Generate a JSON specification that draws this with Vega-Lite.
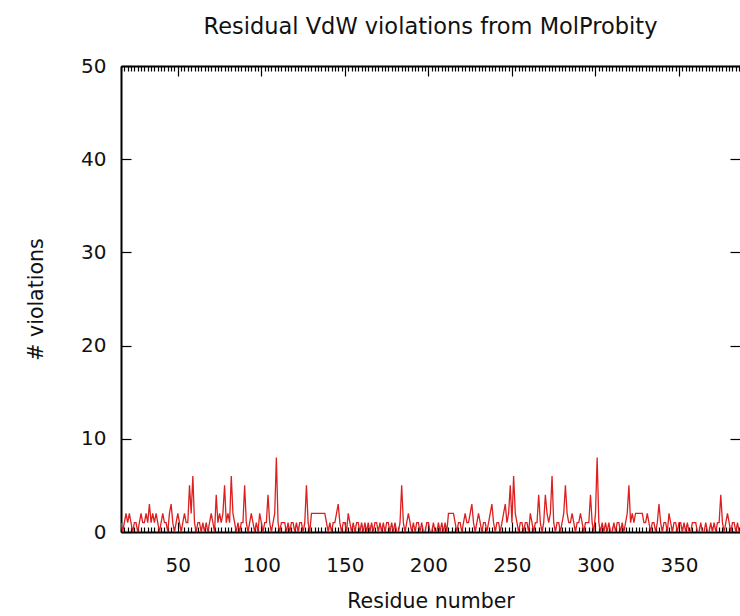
{
"$schema": "https://vega.github.io/schema/vega-lite/v6.json",
"width": 619, "height": 466,
"autosize": {"type": "none"},
"padding": {"left": 121, "top": 66, "right": 0, "bottom": 84},
"background": "white",
"title": {"text": "Residual VdW violations from MolProbity", "font": "DejaVu Sans", "fontSize": 22.5, "fontWeight": "normal", "color": "#111", "offset": 18},
"config": {"view": {"stroke": null}, "axis": {"domainColor": "#000", "domainWidth": 2, "tickColor": "#000", "tickWidth": 1.2, "labelFont": "DejaVu Sans", "labelFontSize": 20, "labelColor": "#111", "titleFont": "DejaVu Sans", "titleFontSize": 20.5, "titleFontWeight": "normal", "titleColor": "#111", "grid": false, "labelOverlap": false, "labelFlush": false}},
"data": {"values": [
{"r":16,"v":1},{"r":17,"v":0},{"r":18,"v":1},{"r":19,"v":2},{"r":20,"v":1},{"r":21,"v":2},{"r":22,"v":1},{"r":23,"v":0},{"r":24,"v":1},{"r":25,"v":1},
{"r":26,"v":0},{"r":27,"v":1},{"r":28,"v":2},{"r":29,"v":1},{"r":30,"v":1},{"r":31,"v":2},{"r":32,"v":1},{"r":33,"v":3},{"r":34,"v":1},{"r":35,"v":2},
{"r":36,"v":1},{"r":37,"v":2},{"r":38,"v":1},{"r":39,"v":0},{"r":40,"v":1},{"r":41,"v":2},{"r":42,"v":1},{"r":43,"v":1},{"r":44,"v":0},{"r":45,"v":2},
{"r":46,"v":3},{"r":47,"v":1},{"r":48,"v":0},{"r":49,"v":1},{"r":50,"v":2},{"r":51,"v":1},{"r":52,"v":0},{"r":53,"v":1},{"r":54,"v":2},{"r":55,"v":1},
{"r":56,"v":1},{"r":57,"v":5},{"r":58,"v":2},{"r":59,"v":6},{"r":60,"v":1},{"r":61,"v":0},{"r":62,"v":1},{"r":63,"v":1},{"r":64,"v":0},{"r":65,"v":1},
{"r":66,"v":0},{"r":67,"v":1},{"r":68,"v":0},{"r":69,"v":1},{"r":70,"v":2},{"r":71,"v":1},{"r":72,"v":0},{"r":73,"v":4},{"r":74,"v":1},{"r":75,"v":2},
{"r":76,"v":1},{"r":77,"v":2},{"r":78,"v":5},{"r":79,"v":1},{"r":80,"v":2},{"r":81,"v":1},{"r":82,"v":6},{"r":83,"v":2},{"r":84,"v":1},{"r":85,"v":0},
{"r":86,"v":1},{"r":87,"v":0},{"r":88,"v":1},{"r":89,"v":1},{"r":90,"v":5},{"r":91,"v":1},{"r":92,"v":0},{"r":93,"v":1},{"r":94,"v":2},{"r":95,"v":1},
{"r":96,"v":0},{"r":97,"v":1},{"r":98,"v":0},{"r":99,"v":2},{"r":100,"v":1},{"r":101,"v":0},{"r":102,"v":1},{"r":103,"v":1},{"r":104,"v":4},{"r":105,"v":1},
{"r":106,"v":0},{"r":107,"v":1},{"r":108,"v":2},{"r":109,"v":8},{"r":110,"v":1},{"r":111,"v":0},{"r":112,"v":1},{"r":113,"v":1},{"r":114,"v":1},{"r":115,"v":0},
{"r":116,"v":1},{"r":117,"v":0},{"r":118,"v":1},{"r":119,"v":1},{"r":120,"v":0},{"r":121,"v":1},{"r":122,"v":0},{"r":123,"v":1},{"r":124,"v":1},{"r":125,"v":0},
{"r":126,"v":1},{"r":127,"v":5},{"r":128,"v":1},{"r":129,"v":0},{"r":130,"v":2},{"r":131,"v":2},{"r":132,"v":2},{"r":133,"v":2},{"r":134,"v":2},{"r":135,"v":2},
{"r":136,"v":2},{"r":137,"v":2},{"r":138,"v":2},{"r":139,"v":1},{"r":140,"v":0},{"r":141,"v":1},{"r":142,"v":0},{"r":143,"v":1},{"r":144,"v":1},{"r":145,"v":2},
{"r":146,"v":3},{"r":147,"v":1},{"r":148,"v":0},{"r":149,"v":1},{"r":150,"v":1},{"r":151,"v":0},{"r":152,"v":2},{"r":153,"v":1},{"r":154,"v":0},{"r":155,"v":1},
{"r":156,"v":0},{"r":157,"v":1},{"r":158,"v":1},{"r":159,"v":0},{"r":160,"v":1},{"r":161,"v":0},{"r":162,"v":1},{"r":163,"v":0},{"r":164,"v":1},{"r":165,"v":0},
{"r":166,"v":1},{"r":167,"v":0},{"r":168,"v":1},{"r":169,"v":1},{"r":170,"v":0},{"r":171,"v":1},{"r":172,"v":0},{"r":173,"v":1},{"r":174,"v":0},{"r":175,"v":1},
{"r":176,"v":1},{"r":177,"v":0},{"r":178,"v":1},{"r":179,"v":0},{"r":180,"v":1},{"r":181,"v":0},{"r":182,"v":0},{"r":183,"v":1},{"r":184,"v":5},{"r":185,"v":1},
{"r":186,"v":0},{"r":187,"v":1},{"r":188,"v":2},{"r":189,"v":1},{"r":190,"v":0},{"r":191,"v":1},{"r":192,"v":0},{"r":193,"v":1},{"r":194,"v":1},{"r":195,"v":0},
{"r":196,"v":1},{"r":197,"v":0},{"r":198,"v":0},{"r":199,"v":1},{"r":200,"v":1},{"r":201,"v":0},{"r":202,"v":0},{"r":203,"v":1},{"r":204,"v":0},{"r":205,"v":0},
{"r":206,"v":1},{"r":207,"v":0},{"r":208,"v":1},{"r":209,"v":0},{"r":210,"v":1},{"r":211,"v":0},{"r":212,"v":2},{"r":213,"v":2},{"r":214,"v":2},{"r":215,"v":2},
{"r":216,"v":1},{"r":217,"v":0},{"r":218,"v":1},{"r":219,"v":1},{"r":220,"v":0},{"r":221,"v":1},{"r":222,"v":2},{"r":223,"v":1},{"r":224,"v":1},{"r":225,"v":2},
{"r":226,"v":3},{"r":227,"v":1},{"r":228,"v":0},{"r":229,"v":1},{"r":230,"v":2},{"r":231,"v":1},{"r":232,"v":0},{"r":233,"v":1},{"r":234,"v":1},{"r":235,"v":0},
{"r":236,"v":1},{"r":237,"v":2},{"r":238,"v":3},{"r":239,"v":1},{"r":240,"v":0},{"r":241,"v":1},{"r":242,"v":1},{"r":243,"v":0},{"r":244,"v":1},{"r":245,"v":2},
{"r":246,"v":3},{"r":247,"v":1},{"r":248,"v":2},{"r":249,"v":5},{"r":250,"v":1},{"r":251,"v":6},{"r":252,"v":2},{"r":253,"v":1},{"r":254,"v":0},{"r":255,"v":1},
{"r":256,"v":1},{"r":257,"v":0},{"r":258,"v":1},{"r":259,"v":1},{"r":260,"v":0},{"r":261,"v":2},{"r":262,"v":1},{"r":263,"v":0},{"r":264,"v":1},{"r":265,"v":1},
{"r":266,"v":4},{"r":267,"v":1},{"r":268,"v":0},{"r":269,"v":1},{"r":270,"v":4},{"r":271,"v":2},{"r":272,"v":1},{"r":273,"v":2},{"r":274,"v":6},{"r":275,"v":1},
{"r":276,"v":0},{"r":277,"v":1},{"r":278,"v":1},{"r":279,"v":0},{"r":280,"v":1},{"r":281,"v":2},{"r":282,"v":5},{"r":283,"v":2},{"r":284,"v":1},{"r":285,"v":1},
{"r":286,"v":2},{"r":287,"v":1},{"r":288,"v":0},{"r":289,"v":1},{"r":290,"v":1},{"r":291,"v":2},{"r":292,"v":1},{"r":293,"v":0},{"r":294,"v":1},{"r":295,"v":1},
{"r":296,"v":1},{"r":297,"v":4},{"r":298,"v":1},{"r":299,"v":0},{"r":300,"v":2},{"r":301,"v":8},{"r":302,"v":1},{"r":303,"v":0},{"r":304,"v":1},{"r":305,"v":0},
{"r":306,"v":1},{"r":307,"v":0},{"r":308,"v":1},{"r":309,"v":0},{"r":310,"v":0},{"r":311,"v":1},{"r":312,"v":0},{"r":313,"v":1},{"r":314,"v":1},{"r":315,"v":0},
{"r":316,"v":1},{"r":317,"v":0},{"r":318,"v":1},{"r":319,"v":2},{"r":320,"v":5},{"r":321,"v":1},{"r":322,"v":2},{"r":323,"v":1},{"r":324,"v":2},{"r":325,"v":2},
{"r":326,"v":2},{"r":327,"v":2},{"r":328,"v":2},{"r":329,"v":1},{"r":330,"v":1},{"r":331,"v":2},{"r":332,"v":1},{"r":333,"v":0},{"r":334,"v":1},{"r":335,"v":1},
{"r":336,"v":0},{"r":337,"v":1},{"r":338,"v":3},{"r":339,"v":1},{"r":340,"v":0},{"r":341,"v":1},{"r":342,"v":1},{"r":343,"v":0},{"r":344,"v":2},{"r":345,"v":1},
{"r":346,"v":0},{"r":347,"v":1},{"r":348,"v":1},{"r":349,"v":0},{"r":350,"v":1},{"r":351,"v":1},{"r":352,"v":0},{"r":353,"v":1},{"r":354,"v":0},{"r":355,"v":1},
{"r":356,"v":0},{"r":357,"v":0},{"r":358,"v":1},{"r":359,"v":1},{"r":360,"v":1},{"r":361,"v":0},{"r":362,"v":0},{"r":363,"v":1},{"r":364,"v":0},{"r":365,"v":0},
{"r":366,"v":1},{"r":367,"v":0},{"r":368,"v":0},{"r":369,"v":1},{"r":370,"v":0},{"r":371,"v":1},{"r":372,"v":0},{"r":373,"v":1},{"r":374,"v":1},{"r":375,"v":4},
{"r":376,"v":1},{"r":377,"v":0},{"r":378,"v":1},{"r":379,"v":2},{"r":380,"v":1},{"r":381,"v":0},{"r":382,"v":1},{"r":383,"v":1},{"r":384,"v":0},{"r":385,"v":1},
{"r":386,"v":0}
]},
"layer": [
{"mark": {"type": "line", "color": "#de1f1f", "strokeWidth": 1.3, "clip": true},
 "encoding": {
  "x": {"field": "r", "type": "quantitative", "scale": {"domain": [16, 386.5], "nice": false, "zero": false},
   "axis": {"orient": "bottom", "title": "Residue number", "titlePadding": 11,
    "values": [16,18,20,22,24,26,28,30,32,34,36,38,40,42,44,46,48,50,52,54,56,58,60,62,64,66,68,70,72,74,76,78,80,82,84,86,88,90,92,94,96,98,100,102,104,106,108,110,112,114,116,118,120,122,124,126,128,130,132,134,136,138,140,142,144,146,148,150,152,154,156,158,160,162,164,166,168,170,172,174,176,178,180,182,184,186,188,190,192,194,196,198,200,202,204,206,208,210,212,214,216,218,220,222,224,226,228,230,232,234,236,238,240,242,244,246,248,250,252,254,256,258,260,262,264,266,268,270,272,274,276,278,280,282,284,286,288,290,292,294,296,298,300,302,304,306,308,310,312,314,316,318,320,322,324,326,328,330,332,334,336,338,340,342,344,346,348,350,352,354,356,358,360,362,364,366,368,370,372,374,376,378,380,382,384,386],
    "labelExpr": "datum.value % 50 === 0 ? datum.label : ''",
    "tickSize": {"condition": {"test": "datum.value % 50 === 0", "value": -10}, "value": -5},
    "labelPadding": 33}},
  "y": {"field": "v", "type": "quantitative", "scale": {"domain": [0, 50], "nice": false},
   "axis": {"orient": "left", "title": "# violations", "values": [0,10,20,30,40,50], "tickSize": -10, "labelPadding": 25, "titlePadding": 34}}
 }},
{"mark": {"type": "line", "opacity": 0},
 "encoding": {
  "x": {"field": "r", "type": "quantitative",
   "axis": {"orient": "top", "title": null, "labels": false,
    "values": [16,18,20,22,24,26,28,30,32,34,36,38,40,42,44,46,48,50,52,54,56,58,60,62,64,66,68,70,72,74,76,78,80,82,84,86,88,90,92,94,96,98,100,102,104,106,108,110,112,114,116,118,120,122,124,126,128,130,132,134,136,138,140,142,144,146,148,150,152,154,156,158,160,162,164,166,168,170,172,174,176,178,180,182,184,186,188,190,192,194,196,198,200,202,204,206,208,210,212,214,216,218,220,222,224,226,228,230,232,234,236,238,240,242,244,246,248,250,252,254,256,258,260,262,264,266,268,270,272,274,276,278,280,282,284,286,288,290,292,294,296,298,300,302,304,306,308,310,312,314,316,318,320,322,324,326,328,330,332,334,336,338,340,342,344,346,348,350,352,354,356,358,360,362,364,366,368,370,372,374,376,378,380,382,384,386],
    "tickSize": {"condition": {"test": "datum.value % 50 === 0", "value": -10}, "value": -5}}},
  "y": {"field": "v", "type": "quantitative",
   "axis": {"orient": "right", "title": null, "labels": false, "domain": false, "values": [0,10,20,30,40,50], "tickSize": -10}}
 }}
],
"resolve": {"axis": {"x": "independent", "y": "independent"}}
}
